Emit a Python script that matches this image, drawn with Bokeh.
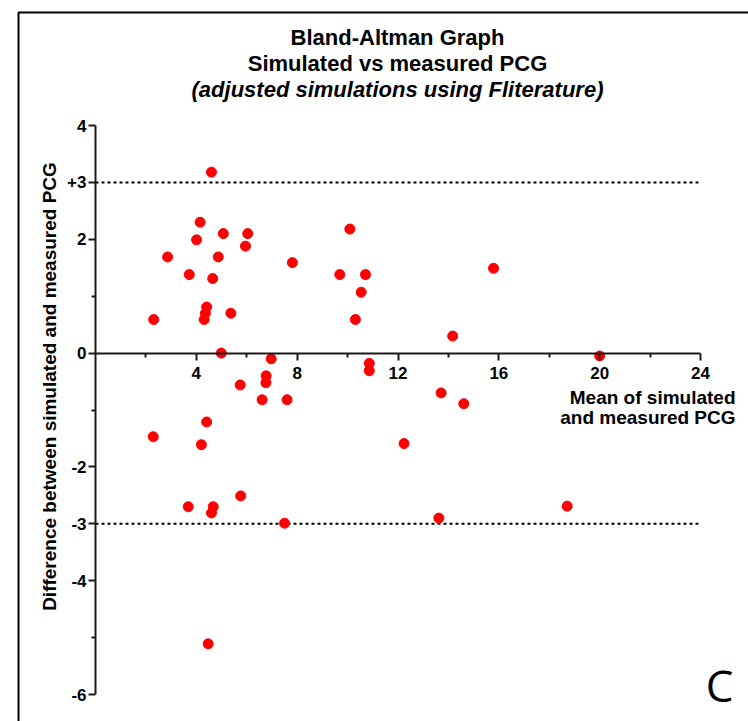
import math
from bokeh.plotting import figure
from bokeh.models import FixedTicker, Label, BoxAnnotation, Range1d
from bokeh.embed import file_html
from bokeh.resources import INLINE

# ---- data ----
mean_vals = [4.60, 4.15, 4.01, 5.07, 6.04, 5.95, 2.86, 4.87, 3.72, 4.65,
             7.81, 10.09, 9.69, 10.71, 10.54, 10.31, 2.31, 4.41, 4.36, 4.31,
             5.37, 4.99, 6.97, 10.86, 10.86, 6.77, 6.76, 5.74, 6.61, 7.60,
             4.41, 2.29, 4.20, 12.24, 5.76, 3.68, 4.67, 4.60, 7.50, 4.47,
             14.17, 13.71, 14.61, 20.00, 15.79, 13.62, 18.71]
diff_vals = [3.18, 2.30, 1.99, 2.10, 2.10, 1.88, 1.69, 1.69, 1.38, 1.31,
             1.59, 2.18, 1.38, 1.38, 1.07, 0.59, 0.59, 0.81, 0.70, 0.59,
             0.70, 0.00, -0.10, -0.18, -0.31, -0.40, -0.52, -0.56, -0.82, -0.82,
             -1.21, -1.47, -1.61, -1.59, -2.51, -2.70, -2.70, -2.81, -2.99, -5.11,
             0.30, -0.70, -0.89, -0.05, 1.49, -2.90, -2.69]
limits = [3, -3]
x_ticks = [4, 8, 12, 16, 20, 24]
x_minor_ticks = [2, 6, 10, 14, 18, 22]
y_ticks = [4, 3, 2, 0, -2, -3, -4, -6]
y_minor_ticks = [1, -1, -5]
y_tick_overrides = {3: "+3", -2: "-2", -3: "-3", -4: "-4", -6: "-6"}
title_lines = ["Bland-Altman Graph", "Simulated vs measured PCG",
               "(adjusted simulations using Fliterature)"]
x_label_lines = ["Mean of simulated", "and measured PCG"]
y_label = "Difference between simulated and measured PCG"
panel_letter = "C"

FONT = "Liberation Sans"
W, H = 748, 721
# pixel layout of the data area: x 0..24 -> px 95..700, y 4..-6 -> px 125..694
PX0, PX1, PY0, PY1 = 95.0, 700.0, 125.0, 694.0
XS = (PX1 - PX0) / 24.0
YS = (PY1 - PY0) / 10.0


def dx(px):
    return (px - PX0) / XS


def dy(py):
    return 4.0 - (py - PY0) / YS


p = figure(width=W, height=H, x_range=Range1d(dx(0), dx(W)), y_range=Range1d(dy(H), dy(0)),
           output_backend="svg", toolbar_location=None,
           min_border_left=0, min_border_right=0, min_border_top=0, min_border_bottom=0)
p.outline_line_color = None
p.grid.visible = False
p.background_fill_color = "white"
p.border_fill_color = "white"

# axes
for ax in (p.xaxis[0], p.yaxis[0]):
    ax.axis_line_width = 2
    ax.axis_line_color = "#1a1a1a"
    ax.major_tick_line_width = 2
    ax.minor_tick_line_width = 2
    ax.major_tick_line_color = "#1a1a1a"
    ax.minor_tick_line_color = "#1a1a1a"
    ax.major_tick_in = 0
    ax.minor_tick_in = 0
    ax.major_tick_out = 7
    ax.minor_tick_out = 4
    ax.major_label_text_font = FONT
    ax.major_label_text_font_style = "bold"
    ax.major_label_text_font_size = "17px"
    ax.major_label_text_color = "black"

p.xaxis.ticker = FixedTicker(ticks=x_ticks, minor_ticks=x_minor_ticks)
p.xaxis.fixed_location = 0
p.xaxis.bounds = (0, 24)
p.xaxis.major_label_standoff = 7

p.yaxis.ticker = FixedTicker(ticks=y_ticks, minor_ticks=y_minor_ticks)
p.yaxis.major_label_overrides = y_tick_overrides
p.yaxis.fixed_location = 0
p.yaxis.bounds = (-6, 4)
p.yaxis.major_label_standoff = 2

# limits of agreement (dotted)
p.segment(x0=[0] * len(limits), x1=[24] * len(limits), y0=limits, y1=limits,
          line_color="black", line_width=2, line_dash="3 3")

# points
p.scatter(mean_vals, diff_vals, size=10, fill_color="#ff0000", line_color="#ff0000")

# outer frame (left and top edges visible)
p.add_layout(BoxAnnotation(left=dx(18), top=dy(12), right=dx(W + 50), bottom=dy(H + 50),
                           fill_alpha=0, line_color="black", line_width=2, line_alpha=1))

# title
for txt, py, style in zip(title_lines, [37, 63, 89], ["bold", "bold", "bold italic"]):
    p.add_layout(Label(x=dx(397), y=dy(py), text=txt, text_align="center", text_baseline="middle",
                       text_font=FONT, text_font_style=style, text_font_size="22px",
                       text_color="black"))

# x axis label (right side, two lines)
for txt, py in zip(x_label_lines, [396.7, 417.3]):
    p.add_layout(Label(x=dx(735), y=dy(py), text=txt, text_align="right", text_baseline="middle",
                       text_font=FONT, text_font_style="bold", text_font_size="19px",
                       text_color="black"))

# y axis label
p.add_layout(Label(x=dx(49), y=dy(386), text=y_label, angle=math.pi / 2,
                   text_align="center", text_baseline="middle",
                   text_font=FONT, text_font_style="bold", text_font_size="19px",
                   text_color="black"))

# panel letter
p.add_layout(Label(x=dx(719), y=dy(684), text=panel_letter, text_align="center",
                   text_baseline="middle", text_font="Open Sans", text_font_size="44px",
                   text_color="black"))

open("out.html", "w").write(file_html(p, INLINE))
